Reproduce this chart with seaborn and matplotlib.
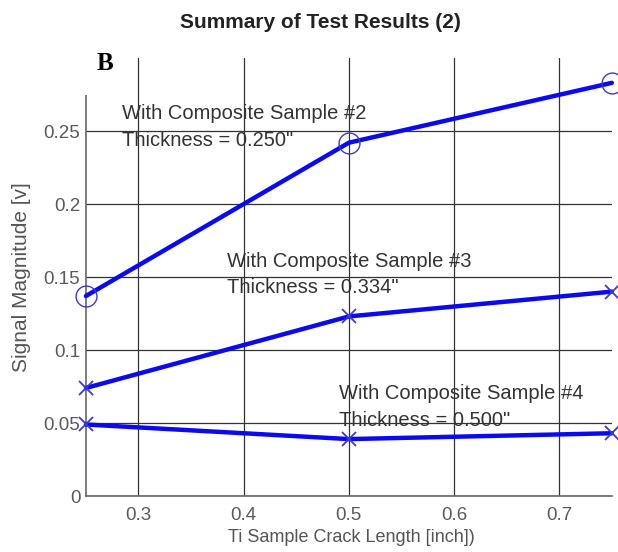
import seaborn as sns
import matplotlib.pyplot as plt
import pandas as pd
from matplotlib.patches import Rectangle

# crack length [inch] and signal magnitude [v] for each composite sample
crack_length = [0.25, 0.5, 0.75]
sample2 = [0.137, 0.242, 0.283]
sample3 = [0.074, 0.123, 0.140]
sample4 = [0.049, 0.039, 0.043]

label2 = ['With Composite Sample #2', 'Thickness = 0.250"']
label3 = ['With Composite Sample #3', 'Thickness = 0.334"']
label4 = ['With Composite Sample #4', 'Thickness = 0.500"']

xticks = [0.3, 0.4, 0.5, 0.6, 0.7]
yticks = [0, 0.05, 0.1, 0.15, 0.2, 0.25]

sns.set_style('white')
plt.rcParams['font.family'] = ['Liberation Sans', 'DejaVu Sans']

fig = plt.figure(figsize=(6.18, 5.52), dpi=100)
ax = fig.add_axes([0.139, 0.1014, 0.851, 0.7935])

blue = '#0a0af0'
edge = '#3a3ad0'
samples = [(sample2, 'o', 15, 1.0), (sample3, 'x', 10, 1.3), (sample4, 'x', 10, 1.3)]
for vals, mk, ms, mw in samples:
    df = pd.DataFrame({'x': crack_length, 'y': vals})
    sns.lineplot(data=df, x='x', y='y', ax=ax, color=blue, lw=3.2,
                 marker=mk, ms=ms, mfc='none', mec=edge, mew=mw, zorder=3,
                 clip_on=False)

ax.set_xlim(0.25, 0.75)
ax.set_ylim(0, 0.3)
ax.set_xticks(xticks)
ax.set_xticklabels([str(t) for t in xticks])
ax.set_yticks(yticks)
ax.set_yticklabels(['0', '0.05', '0.1', '0.15', '0.2', '0.25'])
ax.grid(True, color='#333333', lw=0.9)
ax.tick_params(length=0, labelsize=13.5, labelcolor='#5a5a5a')
ax.tick_params(axis='x', pad=8)
ax.tick_params(axis='y', pad=4)
for s in ['top', 'right']:
    ax.spines[s].set_visible(False)
for s in ['left', 'bottom']:
    ax.spines[s].set_color('#666666')
    ax.spines[s].set_linewidth(1.2)

ax.set_xlabel('Ti Sample Crack Length [inch])', fontsize=13, color='#555555', va='center')
ax.xaxis.set_label_coords(0.504, -0.0936)
ax.set_ylabel('Signal Magnitude [v]', fontsize=15, color='#555555', va='center')
ax.yaxis.set_label_coords(-0.1217, 0.5)

tcol = '#333333'
for (x, y1, y2), lab in zip([(0.284, 0.2623, 0.2432), (0.3846, 0.1603, 0.1425), (0.4908, 0.0705, 0.052)],
                            [label2, label3, label4]):
    ax.text(x, y1, lab[0], fontsize=14.5, color=tcol, va='center', ha='left', zorder=4)
    ax.text(x, y2, lab[1], fontsize=14.5, color=tcol, va='center', ha='left', zorder=4)

fig.text(320 / 618, 1 - 23 / 552, 'Summary of Test Results (2)', fontsize=15,
         fontweight='bold', color='#222222', ha='center', va='center')

fig.patches.append(Rectangle((75 / 618, 1 - 95 / 552), 53 / 618, 60 / 552,
                             transform=fig.transFigure, facecolor='white',
                             edgecolor='none', zorder=5))
fig.text(105 / 618, 1 - 64 / 552, 'B', fontsize=18, fontweight='bold',
         family='Liberation Serif', color='black', ha='center', va='center', zorder=6)

plt.savefig('out.png', dpi=100)
